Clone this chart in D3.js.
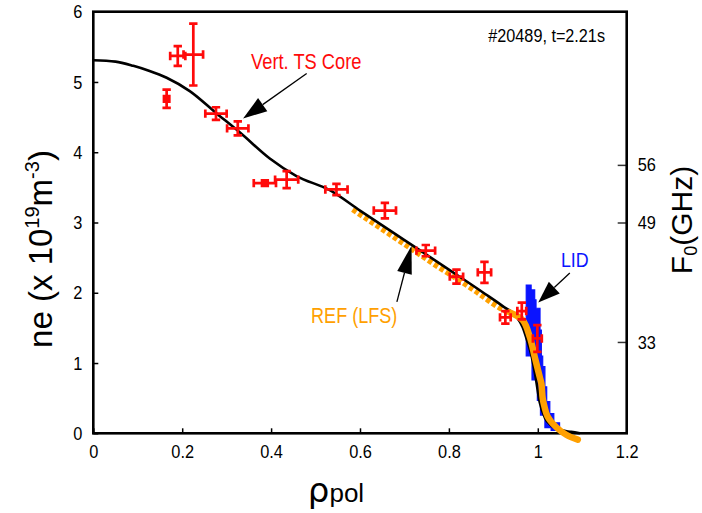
<!DOCTYPE html>
<html><head><meta charset="utf-8">
<script src="https://cdn.jsdelivr.net/npm/d3@7"></script>
<style>
body{margin:0;background:#fff}
svg{display:block}
text{font-family:"Liberation Sans",Arial,Helvetica,sans-serif}
</style>
</head><body>
<svg id="chart" width="702" height="513"></svg>
<script>
// ---------- data ----------
const xTicks = [0, 0.2, 0.4, 0.6, 0.8, 1, 1.2];
const xTickLabels = ["0", "0.2", "0.4", "0.6", "0.8", "1", "1.2"];
const yTicks = [0, 1, 2, 3, 4, 5, 6];
const yTickLabels = ["0", "1", "2", "3", "4", "5", "6"];
const f0Labels = ["56", "49", "33"];
const f0Ne = [3.82, 3.0, 1.30];

// Vertical Thomson scattering (core) points with error bars
const tsRho    = [0.165, 0.190, 0.225, 0.276, 0.325, 0.386, 0.435, 0.547, 0.656, 0.748, 0.817, 0.880, 0.927, 0.964, 0.999];
const tsNe     = [4.76, 5.37, 5.39, 4.55, 4.34, 3.56, 3.61, 3.47, 3.17, 2.60, 2.23, 2.29, 1.65, 1.74, 1.35];
const tsRhoErr = [0.006, 0.017, 0.022, 0.024, 0.024, 0.025, 0.026, 0.025, 0.025, 0.021, 0.015, 0.015, 0.012, 0.010, 0.010];
const tsNeErr  = [0.13, 0.14, 0.44, 0.09, 0.10, 0.04, 0.12, 0.08, 0.11, 0.08, 0.10, 0.15, 0.09, 0.12, 0.19];

// fitted profile (black)
const fitRho = [0, 0.05, 0.09, 0.125, 0.165, 0.217, 0.276, 0.33, 0.397, 0.457, 0.532, 0.60, 0.70, 0.80, 0.88, 0.921, 0.952, 0.966, 0.977, 0.986, 0.995, 1.004, 1.016, 1.03, 1.05, 1.075, 1.095];
const fitNe  = [5.31, 5.29, 5.23, 5.16, 5.06, 4.87, 4.56, 4.28, 3.91, 3.66, 3.46, 3.17, 2.75, 2.33, 1.99, 1.81, 1.66, 1.51, 1.30, 1.10, 0.80, 0.45, 0.22, 0.11, 0.05, 0.02, 0.0];

// reflectometry LFS profile (orange): sparse part (square markers) and dense edge part
const refDotRho = [0.584, 0.62, 0.66, 0.70, 0.74, 0.78, 0.82, 0.86, 0.90, 0.937];
const refDotNe  = [3.19, 3.04, 2.87, 2.70, 2.53, 2.36, 2.20, 2.03, 1.85, 1.71];
const refRho = [0.937, 0.966, 0.982, 0.993, 1.004, 1.008, 1.011, 1.015, 1.022, 1.041, 1.064, 1.09];
const refNe  = [1.72, 1.61, 1.37, 1.09, 0.81, 0.71, 0.50, 0.38, 0.24, 0.09, -0.02, -0.09];

// Lithium beam (LID) profile envelope (blue)
const lidRho = [0.974, 0.985, 0.993, 0.996, 1.005, 1.008, 1.011, 1.016, 1.020, 1.027, 1.036, 1.049, 1.030, 1.016, 1.006, 0.999, 0.987, 0.974, 0.974];
const lidNe  = [2.11, 2.04, 1.90, 1.78, 1.47, 1.10, 0.95, 0.66, 0.45, 0.28, 0.15, 0.04, 0.08, 0.26, 0.47, 0.76, 1.10, 1.37, 2.11];

// ---------- layout ----------
const svg = d3.select("#chart");
const plot = {left: 93.3, right: 626.7, top: 11.7, bottom: 433.3};
const x = d3.scaleLinear().domain([0, 1.2]).range([plot.left, plot.right]);
const y = d3.scaleLinear().domain([0, 6]).range([plot.bottom, plot.top]);

const RED = "#ff0a0a", ORANGE = "#ffa000", BLUE = "#0a14ff";

function narrow(sel, f) {
  sel.each(function () {
    const w = this.getComputedTextLength();
    d3.select(this).attr("textLength", w * f).attr("lengthAdjust", "spacingAndGlyphs");
  });
}

// axes
const gx = svg.append("g").attr("transform", `translate(0,${plot.bottom})`)
  .call(d3.axisBottom(x).tickValues(xTicks).tickSize(-5).tickPadding(11)
        .tickFormat((d, i) => xTickLabels[i]));
const gy = svg.append("g").attr("transform", `translate(${plot.left},0)`)
  .call(d3.axisLeft(y).tickValues(yTicks).tickSize(-5).tickPadding(11)
        .tickFormat((d, i) => yTickLabels[i]));
const gr = svg.append("g").attr("transform", `translate(${plot.right},0)`)
  .call(d3.axisRight(y).tickValues(f0Ne).tickSize(-9).tickPadding(11)
        .tickFormat((d, i) => f0Labels[i]));
[gx, gy, gr].forEach(g => {
  g.select(".domain").remove();
  g.selectAll(".tick line").attr("stroke", "#000").attr("stroke-width", 1.5);
  g.selectAll(".tick text").attr("fill", "#000").style("font-size", "19px")
    .style("font-family", '"Liberation Sans",Arial,sans-serif');
});
gr.selectAll(".tick line").attr("stroke", "#333");
narrow(svg.selectAll(".tick text"), 0.86);

// frame
svg.append("rect")
  .attr("x", plot.left).attr("y", plot.top)
  .attr("width", plot.right - plot.left).attr("height", plot.bottom - plot.top)
  .attr("fill", "none").attr("stroke", "#000").attr("stroke-width", 2.6);

// LID blue envelope
const lidPts = lidRho.map((r, i) => [x(r), y(lidNe[i])]);
svg.append("path")
  .attr("d", d3.line().curve(d3.curveStepAfter)(lidPts) + "Z")
  .attr("fill", BLUE).attr("stroke", BLUE).attr("stroke-width", 1.2);

// REF sparse part (square markers)
const refDotPts = refDotRho.map((r, i) => [x(r), y(refDotNe[i])]);
svg.append("path")
  .attr("d", d3.line().curve(d3.curveMonotoneX)(refDotPts))
  .attr("fill", "none").attr("stroke", ORANGE).attr("stroke-width", 6.5)
  .attr("stroke-dasharray", "4.5,2.5");

// fitted black line
const fitPts = fitRho.map((r, i) => [x(r), y(fitNe[i])]);
svg.append("path")
  .attr("d", d3.line().curve(d3.curveMonotoneX)(fitPts))
  .attr("fill", "none").attr("stroke", "#000").attr("stroke-width", 2.6);

// REF dense edge part
const refPts = refRho.map((r, i) => [x(r), y(refNe[i])]);
svg.append("path")
  .attr("d", d3.line().curve(d3.curveCatmullRom)(refPts))
  .attr("fill", "none").attr("stroke", ORANGE).attr("stroke-width", 6.5)
  .attr("stroke-linecap", "round").attr("stroke-linejoin", "round");

// TS error bars
const ts = svg.append("g").attr("stroke", RED).attr("stroke-width", 2.7).attr("fill", "none");
const cap = 4.2;
tsRho.forEach((r, i) => {
  const cx = x(r), cy = y(tsNe[i]);
  const x0 = x(r - tsRhoErr[i]), x1 = x(r + tsRhoErr[i]);
  const y0 = y(tsNe[i] - tsNeErr[i]), y1 = y(tsNe[i] + tsNeErr[i]);
  const p = d3.path();
  p.moveTo(x0, cy); p.lineTo(x1, cy);
  p.moveTo(cx, y0); p.lineTo(cx, y1);
  p.moveTo(x0, cy - cap); p.lineTo(x0, cy + cap);
  p.moveTo(x1, cy - cap); p.lineTo(x1, cy + cap);
  p.moveTo(cx - cap, y0); p.lineTo(cx + cap, y0);
  p.moveTo(cx - cap, y1); p.lineTo(cx + cap, y1);
  ts.append("path").attr("d", p.toString());
});

// arrows (in data coordinates)
function arrow(r0, n0, r1, n1, headLen, headW) {
  const X0 = x(r0), Y0 = y(n0), X1 = x(r1), Y1 = y(n1);
  const dx = X1 - X0, dy = Y1 - Y0, L = Math.hypot(dx, dy);
  const ux = dx / L, uy = dy / L;
  const bx = X1 - ux * headLen, by = Y1 - uy * headLen;
  svg.append("line").attr("x1", X0).attr("y1", Y0).attr("x2", bx).attr("y2", by)
    .attr("stroke", "#000").attr("stroke-width", 1.3);
  svg.append("path")
    .attr("d", `M${X1},${Y1}L${bx - uy * headW},${by + ux * headW}L${bx + uy * headW},${by - ux * headW}Z`)
    .attr("fill", "#000");
}
arrow(0.480, 5.12, 0.337, 4.48, 24, 8);
arrow(1.072, 2.28, 1.001, 1.86, 22, 8);
arrow(0.683, 1.87, 0.716, 2.67, 28, 7.5);

// annotation texts
const t1 = svg.append("text").attr("x", x(0.355)).attr("y", y(5.18))
  .attr("fill", RED).style("font-size", "22px").text("Vert. TS Core");
const t2 = svg.append("text").attr("x", 605).attr("y", 41.5).attr("text-anchor", "end")
  .attr("fill", "#000").style("font-size", "18px").text("#20489, t=2.21s");
const t3 = svg.append("text").attr("x", x(1.052)).attr("y", y(2.36))
  .attr("fill", BLUE).style("font-size", "21px").text("LID");
const t4 = svg.append("text").attr("x", x(0.490)).attr("y", y(1.57))
  .attr("fill", ORANGE).style("font-size", "22px").text("REF (LFS)");
narrow(t1, 0.83); narrow(t2, 0.9); narrow(t3, 0.85); narrow(t4, 0.82);

// axis titles
const yl = svg.append("text").attr("transform", "translate(52,249) rotate(-90)")
  .attr("text-anchor", "middle").attr("fill", "#000").style("font-size", "33px");
yl.append("tspan").text("ne (x 10");
yl.append("tspan").attr("dy", -13).style("font-size", "20px").text("19");
yl.append("tspan").attr("dy", 13).text("m");
yl.append("tspan").attr("dy", -13).style("font-size", "20px").text("-3");
yl.append("tspan").attr("dy", 13).text(")");

const xl = svg.append("text").attr("x", 336).attr("y", 502)
  .attr("text-anchor", "middle").attr("fill", "#000");
xl.append("tspan").style("font-size", "34px").style("font-family", '"DejaVu Sans",sans-serif').text("ρ");
xl.append("tspan").style("font-size", "26px").text("pol");

const rl = svg.append("text").attr("transform", "translate(692,220) rotate(-90)")
  .attr("text-anchor", "middle").attr("fill", "#000").style("font-size", "30px");
rl.append("tspan").text("F");
rl.append("tspan").attr("dy", 5).style("font-size", "18px").text("0");
rl.append("tspan").attr("dy", -5).text("(GHz)");
</script>
</body></html>
